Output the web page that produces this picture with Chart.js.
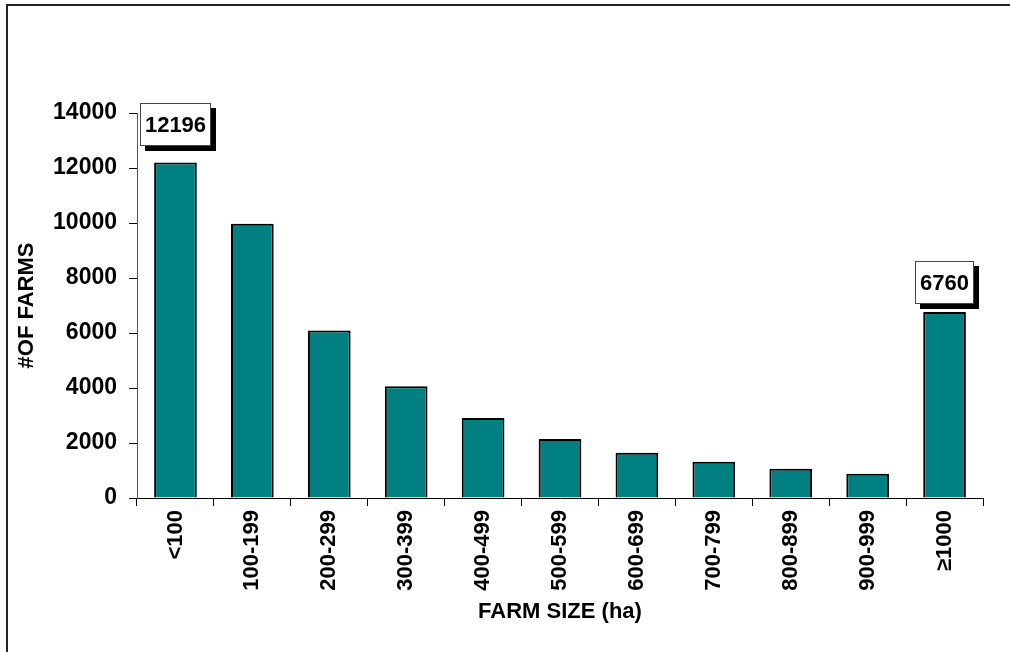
<!DOCTYPE html>
<html>
<head>
<meta charset="utf-8">
<script src="https://cdn.jsdelivr.net/npm/chart.js@4"></script>
<style>
  html, body { margin: 0; padding: 0; background: #fff; overflow: hidden; }
  canvas { display: block; }
</style>
</head>
<body>
<canvas id="c" width="1010" height="652"></canvas>
<script>
const categories = ['<100', '100-199', '200-299', '300-399', '400-499', '500-599',
                    '600-699', '700-799', '800-899', '900-999', '\u22651000'];
const farmCounts = [12196, 9970, 6090, 4060, 2910, 2150, 1650, 1320, 1065, 885, 6760];
const yTicks = [0, 2000, 4000, 6000, 8000, 10000, 12000, 14000];
const calloutIndices = [0, 10];

const FONT = '"Liberation Sans", Arial, sans-serif';
const calloutGap = { 0: 17, 10: 8 };

const framePlugin = {
  id: 'frame',
  beforeDraw(chart) {
    const ctx = chart.ctx;
    ctx.save();
    ctx.fillStyle = '#fff';
    ctx.fillRect(0, 0, chart.width, chart.height);
    ctx.strokeStyle = '#222';
    ctx.lineWidth = 2;
    ctx.beginPath();
    ctx.moveTo(7, chart.height);
    ctx.lineTo(7, 5);
    ctx.lineTo(chart.width, 5);
    ctx.stroke();
    ctx.restore();
  }
};

const calloutPlugin = {
  id: 'callouts',
  afterDatasetsDraw(chart) {
    const ctx = chart.ctx;
    const meta = chart.getDatasetMeta(0);
    ctx.save();
    ctx.font = 'bold 22px ' + FONT;
    calloutIndices.forEach(i => {
      const bar = meta.data[i];
      const text = String(farmCounts[i]);
      const tw = ctx.measureText(text).width;
      const w = Math.round(tw + 10);
      const h = 43;
      const x = Math.round(bar.x - w / 2);
      const y = Math.round(bar.y - (calloutGap[i] || 10) - h);
      ctx.fillStyle = '#000';
      ctx.fillRect(x + 5, y + 5, w, h);
      ctx.fillStyle = '#fff';
      ctx.fillRect(x, y, w, h);
      ctx.strokeStyle = '#444';
      ctx.lineWidth = 1;
      ctx.strokeRect(x + 0.5, y + 0.5, w - 1, h - 1);
      ctx.fillStyle = '#000';
      ctx.textAlign = 'center';
      ctx.textBaseline = 'middle';
      ctx.fillText(text, x + w / 2, y + h / 2 + 1);
    });
    ctx.restore();
  }
};

new Chart(document.getElementById('c'), {
  type: 'bar',
  data: {
    labels: categories,
    datasets: [{
      data: farmCounts,
      backgroundColor: '#008080',
      borderColor: '#000',
      borderWidth: 2,
      barPercentage: 0.555,
      categoryPercentage: 1.0
    }]
  },
  options: {
    responsive: false,
    animation: false,
    devicePixelRatio: 1,
    layout: { padding: { top: 113, right: 27, left: 0, bottom: 0 } },
    plugins: { legend: { display: false }, tooltip: { enabled: false } },
    scales: {
      x: {
        afterFit(s) { s.height = 154; },
        grid: { drawOnChartArea: false, tickLength: 8, color: '#000', offset: true },
        border: { color: '#000', width: 1 },
        ticks: {
          autoSkip: false, maxRotation: 90, minRotation: 90, padding: 4,
          color: '#000', font: { family: FONT, size: 22, weight: 'bold' }
        },
        title: {
          display: true, text: 'FARM SIZE (ha)', color: '#000',
          font: { family: FONT, size: 22, weight: 'bold' },
          padding: { top: 0, bottom: 27 }
        }
      },
      y: {
        min: 0, max: 14000,
        afterFit(s) { s.width = 137; },
        afterBuildTicks(s) { s.ticks = yTicks.map(v => ({ value: v })); },
        grid: { drawOnChartArea: false, tickLength: 8, color: '#000' },
        border: { color: '#555', width: 1 },
        ticks: {
          padding: 12, color: '#000',
          callback: v => String(v),
          font: { family: FONT, size: 23, weight: 'bold' }
        },
        title: {
          display: true, text: '#OF FARMS', color: '#000',
          font: { family: FONT, size: 22, weight: 'bold' },
          padding: { top: 14, bottom: 0 }
        }
      }
    }
  },
  plugins: [framePlugin, calloutPlugin]
});
</script>
</body>
</html>
